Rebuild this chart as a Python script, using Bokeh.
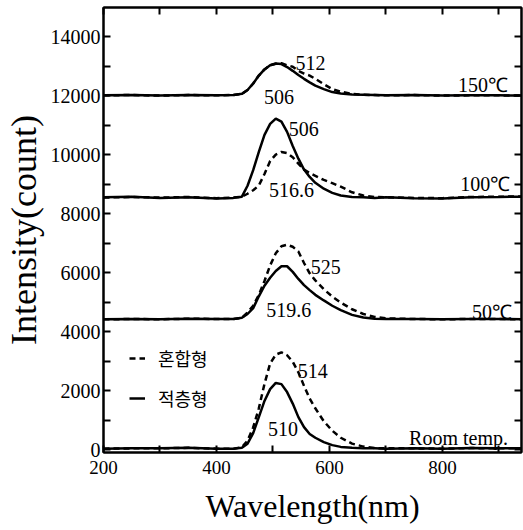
from bokeh.plotting import figure
from bokeh.models import Range1d, LinearAxis, FixedTicker, Legend, LegendItem
from bokeh.core.properties import value
from bokeh.embed import file_html
from bokeh.resources import INLINE

# ---------------- data ----------------
wavelength = [200, 250, 300, 350, 400, 430, 445, 455, 465, 475, 485, 495, 505, 515,
              525, 535, 545, 555, 565, 575, 590, 605, 620, 640, 660, 680, 700, 750,
              800, 850, 900, 940]

# Room temperature
rt_stacked = [30, 40, 40, 60, 30, 30, 60, 200, 560, 1100, 1650, 2050, 2260, 2220,
              1950, 1560, 1100, 760, 530, 400, 250, 150, 90, 60, 40, 40, 30, 40,
              30, 50, 40, 40]
rt_mixed = [30, 40, 40, 60, 30, 30, 80, 300, 750, 1400, 2230, 2920, 3220, 3300,
            3200, 2980, 2620, 2160, 1730, 1400, 960, 640, 400, 200, 100, 50, 40, 40,
            30, 50, 40, 40]
# 50 C
t50_stacked = [4420, 4430, 4420, 4440, 4430, 4430, 4470, 4600, 4800, 5200, 5560, 5830,
               6060, 6220, 6220, 6030, 5790, 5580, 5410, 5250, 5060, 4880, 4730, 4570,
               4480, 4440, 4430, 4430, 4420, 4430, 4430, 4420]
t50_mixed = [4420, 4430, 4420, 4440, 4430, 4430, 4470, 4650, 4880, 5250, 5720, 6250,
             6660, 6900, 6950, 6880, 6720, 6330, 5980, 5740, 5440, 5190, 4990, 4760,
             4600, 4500, 4450, 4430, 4420, 4430, 4430, 4420]
# 100 C
t100_stacked = [8560, 8580, 8540, 8560, 8520, 8540, 8580, 8950, 9480, 10100, 10680,
                11050, 11230, 11130, 10780, 10300, 9870, 9500, 9250, 9050, 8850, 8710,
                8620, 8570, 8560, 8540, 8560, 8530, 8520, 8560, 8570, 8580]
t100_mixed = [8550, 8570, 8550, 8570, 8530, 8550, 8580, 8680, 8800, 8960, 9350, 9790,
              10010, 10100, 10060, 9920, 9700, 9500, 9380, 9290, 9150, 9040, 8920,
              8730, 8620, 8570, 8560, 8540, 8530, 8570, 8580, 8590]
# 150 C
t150_stacked = [12020, 12030, 12010, 12030, 12020, 12030, 12070, 12200, 12420, 12690,
                12900, 13040, 13100, 13080, 12980, 12850, 12710, 12580, 12460, 12350,
                12230, 12130, 12080, 12050, 12040, 12030, 12020, 12030, 12010, 12020,
                12020, 12010]
t150_mixed = [12020, 12030, 12010, 12030, 12020, 12030, 12070, 12200, 12420, 12690,
              12900, 13040, 13090, 13110, 13040, 12990, 12850, 12760, 12690, 12580,
              12400, 12230, 12140, 12070, 12040, 12030, 12020, 12030, 12010, 12020,
              12020, 12010]

peak_labels = ["512", "506", "506", "516.6", "525", "519.6", "514", "510"]
temp_labels = ["150\u2103", "100\u2103", "50\u2103", "Room temp."]
legend_labels = ["혼합형", "적층형"]

x_ticks = [200, 400, 600, 800]
x_minor = [300, 500, 700, 900]
y_ticks = [0, 2000, 4000, 6000, 8000, 10000, 12000, 14000]
y_minor = [1000, 3000, 5000, 7000, 9000, 11000, 13000]

# ---------------- figure ----------------
SERIF = "Liberation Serif"
p = figure(width=523, height=526, output_backend="svg", toolbar_location=None,
           x_range=Range1d(200, 940), y_range=Range1d(-100, 15000),
           min_border_left=102, min_border_right=2, min_border_top=7,
           min_border_bottom=0, x_axis_label="Wavelength(nm)",
           y_axis_label="Intensity(count)")
p.grid.visible = False
p.outline_line_color = "black"
p.outline_line_width = 2
p.background_fill_color = "white"

def style_axis(ax, ticks, minor):
    ax.ticker = FixedTicker(ticks=ticks, minor_ticks=minor)
    ax.axis_line_width = 2
    ax.major_tick_line_width = 2
    ax.minor_tick_line_width = 2
    ax.major_tick_in = 7
    ax.major_tick_out = 0
    ax.minor_tick_in = 7
    ax.minor_tick_out = 0
    ax.major_label_text_font = SERIF
    ax.major_label_text_color = "black"
    ax.axis_line_color = "black"
    ax.major_tick_line_color = "black"
    ax.minor_tick_line_color = "black"

xa = p.xaxis[0]
style_axis(xa, x_ticks, x_minor)
xa.major_label_text_font_size = "19px"
xa.major_label_standoff = 8
xa.axis_label_text_font = SERIF
xa.axis_label_text_font_size = "32px"
xa.axis_label_text_font_style = "normal"
xa.axis_label_text_color = "black"
xa.axis_label_standoff = 11

ya = p.yaxis[0]
style_axis(ya, y_ticks, y_minor)
ya.major_label_text_font_size = "20px"
ya.major_label_standoff = 3
ya.axis_label_text_font = SERIF
ya.axis_label_text_font_size = "36px"
ya.axis_label_text_font_style = "normal"
ya.axis_label_text_color = "black"
ya.axis_label_standoff = 4

# frame axes on top and right: ticks only (all as minor ticks, so no labels)
top = LinearAxis()
style_axis(top, [], x_ticks + x_minor)
p.add_layout(top, "above")
right = LinearAxis()
style_axis(right, [], y_ticks + y_minor)
p.add_layout(right, "right")

# ---------------- curves ----------------
LW = 2.5
DASH = "6 4"
r_rt_m = p.line(wavelength, rt_mixed, line_color="black", line_width=LW, line_dash=DASH)
r_rt_s = p.line(wavelength, rt_stacked, line_color="black", line_width=LW)
p.line(wavelength, t50_mixed, line_color="black", line_width=LW, line_dash=DASH)
p.line(wavelength, t50_stacked, line_color="black", line_width=LW)
p.line(wavelength, t100_mixed, line_color="black", line_width=LW, line_dash=DASH)
p.line(wavelength, t100_stacked, line_color="black", line_width=LW)
p.line(wavelength, t150_mixed, line_color="black", line_width=LW, line_dash=DASH)
p.line(wavelength, t150_stacked, line_color="black", line_width=LW)

# ---------------- annotations ----------------
peak_x = [540, 484, 528, 493, 567, 488, 544, 491]
peak_y = [13116, 11960, 10873, 8800, 6184, 4723, 2650, 714]
p.text(x=peak_x, y=peak_y, text=peak_labels, text_font=value(SERIF),
       text_font_size="20px", text_align="left", text_baseline="alphabetic",
       text_color="black")

temp_x = [916, 920, 923, 916]
temp_y = [12368, 9004, 4655, 408]
p.text(x=temp_x, y=temp_y, text=temp_labels, text_font=value(SERIF),
       text_font_size="20px", text_align="right", text_baseline="alphabetic",
       text_color="black")

# ---------------- legend ----------------
legend = Legend(items=[LegendItem(label=legend_labels[0], renderers=[r_rt_m]),
                       LegendItem(label=legend_labels[1], renderers=[r_rt_s])],
                location=(26, 41))
legend.label_text_font = "Noto Sans CJK KR"
legend.label_text_font_size = "18px"
legend.label_text_color = "black"
legend.glyph_width = 16
legend.glyph_height = 20
legend.label_height = 20
legend.label_standoff = 13
legend.spacing = 14
legend.padding = 0
legend.margin = 0
legend.background_fill_alpha = 0
legend.border_line_alpha = 0
p.add_layout(legend, "center")

open("out.html", "w").write(file_html(p, INLINE))
